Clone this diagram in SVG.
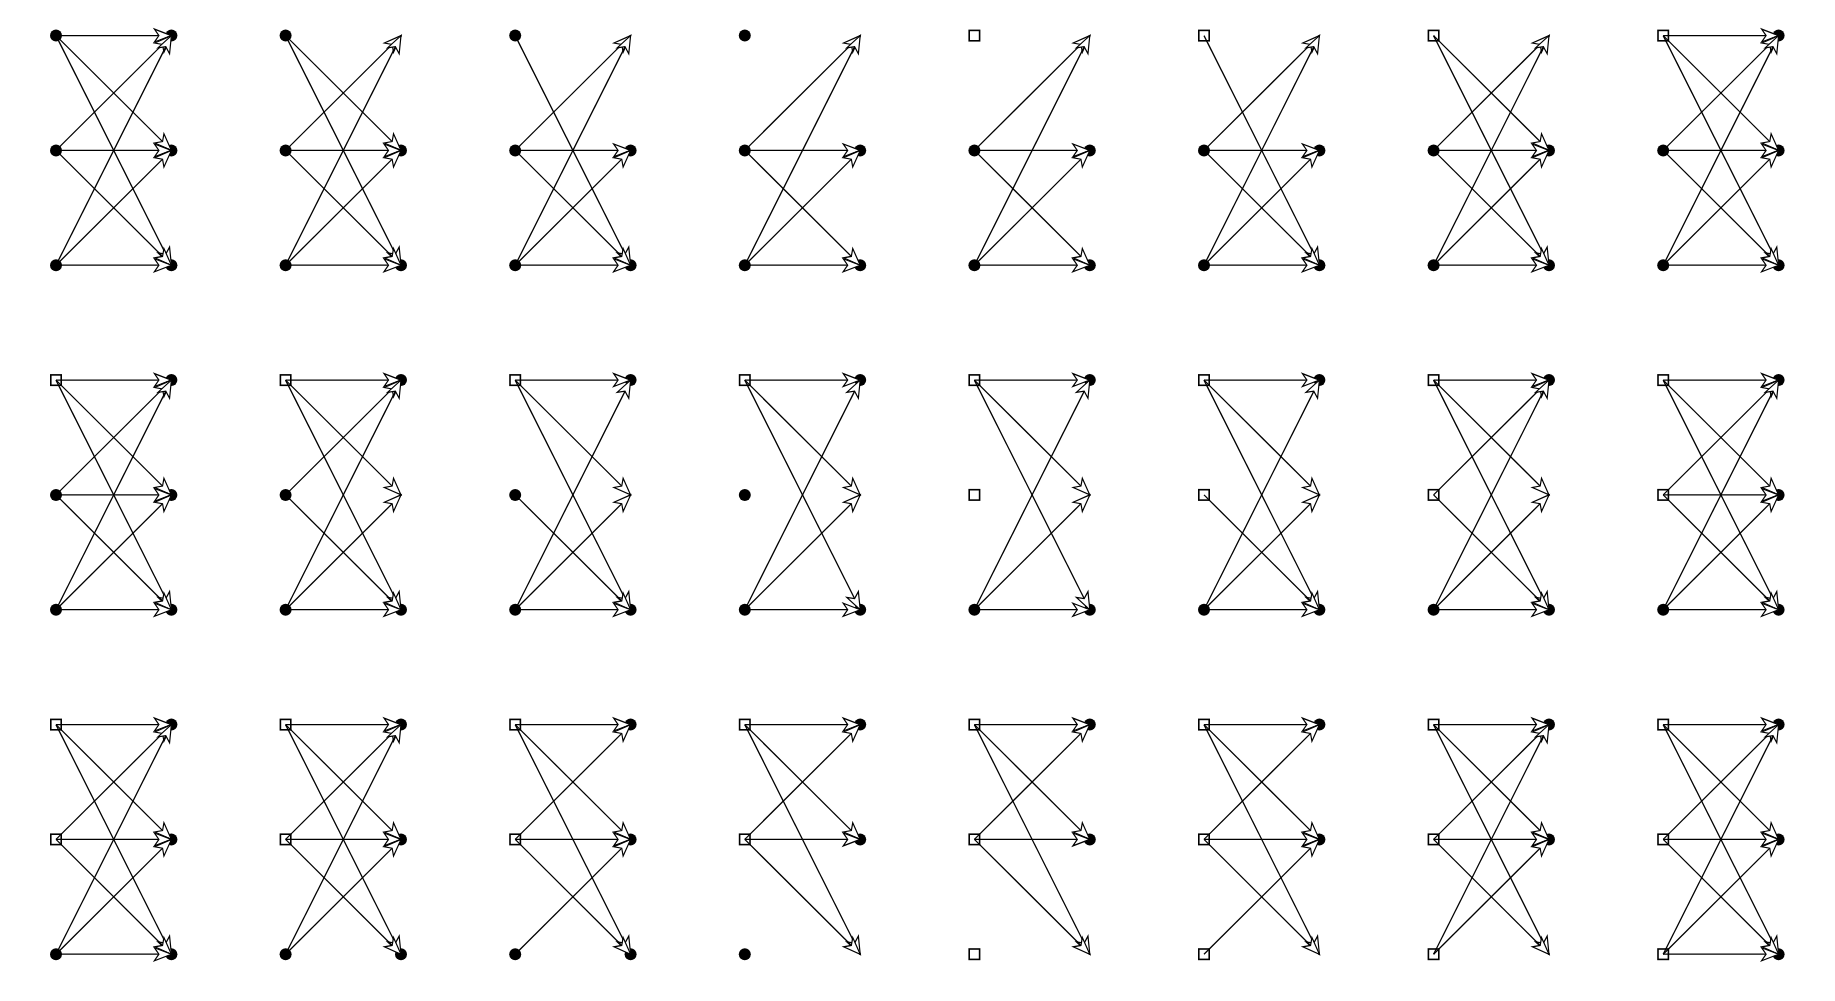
<svg xmlns="http://www.w3.org/2000/svg" xmlns:xlink="http://www.w3.org/1999/xlink" width="1835" height="1001" viewBox="0 0 1835 1001">
<style>
.e{stroke:#000;stroke-width:1.3;fill:none;marker-end:url(#ah)}
.d{fill:#000}
.s{fill:#fff;stroke:#000;stroke-width:1.6}
</style>
<defs>
<marker id="ah" markerUnits="userSpaceOnUse" markerWidth="40" markerHeight="40" refX="0" refY="0" orient="auto" overflow="visible">
<path d="M0,0 L-17,-6.5 L-12.5,0 L-17,6.5 Z" fill="#fff" stroke="#000" stroke-width="1.2" stroke-linejoin="miter"/>
</marker>
<circle id="dot" class="d" cx="0" cy="0" r="6"/>
<rect id="sq" class="s" x="-5.2" y="-5.2" width="10.4" height="10.4"/>
</defs>
<rect width="1835" height="1001" fill="#fff"/>
<g id="nodes">
<g id="p1" transform="translate(56,35.6)"><g id="p1-L0"><use href="#dot"/></g><g id="p1-L1"><use href="#dot" y="114.8"/></g><g id="p1-L2"><use href="#dot" y="229.6"/></g><g id="p1-R0"><use href="#dot" x="115.4"/></g><g id="p1-R1"><use href="#dot" x="115.4" y="114.8"/></g><g id="p1-R2"><use href="#dot" x="115.4" y="229.6"/></g></g>
<g id="p2" transform="translate(285.6,35.6)"><g id="p2-L0"><use href="#dot"/></g><g id="p2-L1"><use href="#dot" y="114.8"/></g><g id="p2-L2"><use href="#dot" y="229.6"/></g><g id="p2-R1"><use href="#dot" x="115.4" y="114.8"/></g><g id="p2-R2"><use href="#dot" x="115.4" y="229.6"/></g></g>
<g id="p3" transform="translate(515.2,35.6)"><g id="p3-L0"><use href="#dot"/></g><g id="p3-L1"><use href="#dot" y="114.8"/></g><g id="p3-L2"><use href="#dot" y="229.6"/></g><g id="p3-R1"><use href="#dot" x="115.4" y="114.8"/></g><g id="p3-R2"><use href="#dot" x="115.4" y="229.6"/></g></g>
<g id="p4" transform="translate(744.8,35.6)"><g id="p4-L0"><use href="#dot"/></g><g id="p4-L1"><use href="#dot" y="114.8"/></g><g id="p4-L2"><use href="#dot" y="229.6"/></g><g id="p4-R1"><use href="#dot" x="115.4" y="114.8"/></g><g id="p4-R2"><use href="#dot" x="115.4" y="229.6"/></g></g>
<g id="p5" transform="translate(974.4,35.6)"><g id="p5-L0"><use href="#sq"/></g><g id="p5-L1"><use href="#dot" y="114.8"/></g><g id="p5-L2"><use href="#dot" y="229.6"/></g><g id="p5-R1"><use href="#dot" x="115.4" y="114.8"/></g><g id="p5-R2"><use href="#dot" x="115.4" y="229.6"/></g></g>
<g id="p6" transform="translate(1204,35.6)"><g id="p6-L0"><use href="#sq"/></g><g id="p6-L1"><use href="#dot" y="114.8"/></g><g id="p6-L2"><use href="#dot" y="229.6"/></g><g id="p6-R1"><use href="#dot" x="115.4" y="114.8"/></g><g id="p6-R2"><use href="#dot" x="115.4" y="229.6"/></g></g>
<g id="p7" transform="translate(1433.6,35.6)"><g id="p7-L0"><use href="#sq"/></g><g id="p7-L1"><use href="#dot" y="114.8"/></g><g id="p7-L2"><use href="#dot" y="229.6"/></g><g id="p7-R1"><use href="#dot" x="115.4" y="114.8"/></g><g id="p7-R2"><use href="#dot" x="115.4" y="229.6"/></g></g>
<g id="p8" transform="translate(1663.2,35.6)"><g id="p8-L0"><use href="#sq"/></g><g id="p8-L1"><use href="#dot" y="114.8"/></g><g id="p8-L2"><use href="#dot" y="229.6"/></g><g id="p8-R0"><use href="#dot" x="115.4"/></g><g id="p8-R1"><use href="#dot" x="115.4" y="114.8"/></g><g id="p8-R2"><use href="#dot" x="115.4" y="229.6"/></g></g>

<g id="p9" transform="translate(56,380.1)"><g id="p9-L0"><use href="#sq"/></g><g id="p9-L1"><use href="#dot" y="114.8"/></g><g id="p9-L2"><use href="#dot" y="229.6"/></g><g id="p9-R0"><use href="#dot" x="115.4"/></g><g id="p9-R1"><use href="#dot" x="115.4" y="114.8"/></g><g id="p9-R2"><use href="#dot" x="115.4" y="229.6"/></g></g>
<g id="p10" transform="translate(285.6,380.1)"><g id="p10-L0"><use href="#sq"/></g><g id="p10-L1"><use href="#dot" y="114.8"/></g><g id="p10-L2"><use href="#dot" y="229.6"/></g><g id="p10-R0"><use href="#dot" x="115.4"/></g><g id="p10-R2"><use href="#dot" x="115.4" y="229.6"/></g></g>
<g id="p11" transform="translate(515.2,380.1)"><g id="p11-L0"><use href="#sq"/></g><g id="p11-L1"><use href="#dot" y="114.8"/></g><g id="p11-L2"><use href="#dot" y="229.6"/></g><g id="p11-R0"><use href="#dot" x="115.4"/></g><g id="p11-R2"><use href="#dot" x="115.4" y="229.6"/></g></g>
<g id="p12" transform="translate(744.8,380.1)"><g id="p12-L0"><use href="#sq"/></g><g id="p12-L1"><use href="#dot" y="114.8"/></g><g id="p12-L2"><use href="#dot" y="229.6"/></g><g id="p12-R0"><use href="#dot" x="115.4"/></g><g id="p12-R2"><use href="#dot" x="115.4" y="229.6"/></g></g>
<g id="p13" transform="translate(974.4,380.1)"><g id="p13-L0"><use href="#sq"/></g><g id="p13-L1"><use href="#sq" y="114.8"/></g><g id="p13-L2"><use href="#dot" y="229.6"/></g><g id="p13-R0"><use href="#dot" x="115.4"/></g><g id="p13-R2"><use href="#dot" x="115.4" y="229.6"/></g></g>
<g id="p14" transform="translate(1204,380.1)"><g id="p14-L0"><use href="#sq"/></g><g id="p14-L1"><use href="#sq" y="114.8"/></g><g id="p14-L2"><use href="#dot" y="229.6"/></g><g id="p14-R0"><use href="#dot" x="115.4"/></g><g id="p14-R2"><use href="#dot" x="115.4" y="229.6"/></g></g>
<g id="p15" transform="translate(1433.6,380.1)"><g id="p15-L0"><use href="#sq"/></g><g id="p15-L1"><use href="#sq" y="114.8"/></g><g id="p15-L2"><use href="#dot" y="229.6"/></g><g id="p15-R0"><use href="#dot" x="115.4"/></g><g id="p15-R2"><use href="#dot" x="115.4" y="229.6"/></g></g>
<g id="p16" transform="translate(1663.2,380.1)"><g id="p16-L0"><use href="#sq"/></g><g id="p16-L1"><use href="#sq" y="114.8"/></g><g id="p16-L2"><use href="#dot" y="229.6"/></g><g id="p16-R0"><use href="#dot" x="115.4"/></g><g id="p16-R1"><use href="#dot" x="115.4" y="114.8"/></g><g id="p16-R2"><use href="#dot" x="115.4" y="229.6"/></g></g>

<g id="p17" transform="translate(56,724.6)"><g id="p17-L0"><use href="#sq"/></g><g id="p17-L1"><use href="#sq" y="114.8"/></g><g id="p17-L2"><use href="#dot" y="229.6"/></g><g id="p17-R0"><use href="#dot" x="115.4"/></g><g id="p17-R1"><use href="#dot" x="115.4" y="114.8"/></g><g id="p17-R2"><use href="#dot" x="115.4" y="229.6"/></g></g>
<g id="p18" transform="translate(285.6,724.6)"><g id="p18-L0"><use href="#sq"/></g><g id="p18-L1"><use href="#sq" y="114.8"/></g><g id="p18-L2"><use href="#dot" y="229.6"/></g><g id="p18-R0"><use href="#dot" x="115.4"/></g><g id="p18-R1"><use href="#dot" x="115.4" y="114.8"/></g><g id="p18-R2"><use href="#dot" x="115.4" y="229.6"/></g></g>
<g id="p19" transform="translate(515.2,724.6)"><g id="p19-L0"><use href="#sq"/></g><g id="p19-L1"><use href="#sq" y="114.8"/></g><g id="p19-L2"><use href="#dot" y="229.6"/></g><g id="p19-R0"><use href="#dot" x="115.4"/></g><g id="p19-R1"><use href="#dot" x="115.4" y="114.8"/></g><g id="p19-R2"><use href="#dot" x="115.4" y="229.6"/></g></g>
<g id="p20" transform="translate(744.8,724.6)"><g id="p20-L0"><use href="#sq"/></g><g id="p20-L1"><use href="#sq" y="114.8"/></g><g id="p20-L2"><use href="#dot" y="229.6"/></g><g id="p20-R0"><use href="#dot" x="115.4"/></g><g id="p20-R1"><use href="#dot" x="115.4" y="114.8"/></g></g>
<g id="p21" transform="translate(974.4,724.6)"><g id="p21-L0"><use href="#sq"/></g><g id="p21-L1"><use href="#sq" y="114.8"/></g><g id="p21-L2"><use href="#sq" y="229.6"/></g><g id="p21-R0"><use href="#dot" x="115.4"/></g><g id="p21-R1"><use href="#dot" x="115.4" y="114.8"/></g></g>
<g id="p22" transform="translate(1204,724.6)"><g id="p22-L0"><use href="#sq"/></g><g id="p22-L1"><use href="#sq" y="114.8"/></g><g id="p22-L2"><use href="#sq" y="229.6"/></g><g id="p22-R0"><use href="#dot" x="115.4"/></g><g id="p22-R1"><use href="#dot" x="115.4" y="114.8"/></g></g>
<g id="p23" transform="translate(1433.6,724.6)"><g id="p23-L0"><use href="#sq"/></g><g id="p23-L1"><use href="#sq" y="114.8"/></g><g id="p23-L2"><use href="#sq" y="229.6"/></g><g id="p23-R0"><use href="#dot" x="115.4"/></g><g id="p23-R1"><use href="#dot" x="115.4" y="114.8"/></g></g>
<g id="p24" transform="translate(1663.2,724.6)"><g id="p24-L0"><use href="#sq"/></g><g id="p24-L1"><use href="#sq" y="114.8"/></g><g id="p24-L2"><use href="#sq" y="229.6"/></g><g id="p24-R0"><use href="#dot" x="115.4"/></g><g id="p24-R1"><use href="#dot" x="115.4" y="114.8"/></g><g id="p24-R2"><use href="#dot" x="115.4" y="229.6"/></g></g>
</g>

<g id="connectors">
<g id="c1" transform="translate(56,35.6)"><path class="e" d="M0 0L115.4 0"/><path class="e" d="M0 0L115.4 114.8"/><path class="e" d="M0 0L115.4 229.6"/><path class="e" d="M0 114.8L115.4 0"/><path class="e" d="M0 114.8L115.4 114.8"/><path class="e" d="M0 114.8L115.4 229.6"/><path class="e" d="M0 229.6L115.4 0"/><path class="e" d="M0 229.6L115.4 114.8"/><path class="e" d="M0 229.6L115.4 229.6"/></g>
<g id="c2" transform="translate(285.6,35.6)"><path class="e" d="M0 0L115.4 114.8"/><path class="e" d="M0 0L115.4 229.6"/><path class="e" d="M0 114.8L115.4 0"/><path class="e" d="M0 114.8L115.4 114.8"/><path class="e" d="M0 114.8L115.4 229.6"/><path class="e" d="M0 229.6L115.4 0"/><path class="e" d="M0 229.6L115.4 114.8"/><path class="e" d="M0 229.6L115.4 229.6"/></g>
<g id="c3" transform="translate(515.2,35.6)"><path class="e" d="M0 0L115.4 229.6"/><path class="e" d="M0 114.8L115.4 0"/><path class="e" d="M0 114.8L115.4 114.8"/><path class="e" d="M0 114.8L115.4 229.6"/><path class="e" d="M0 229.6L115.4 0"/><path class="e" d="M0 229.6L115.4 114.8"/><path class="e" d="M0 229.6L115.4 229.6"/></g>
<g id="c4" transform="translate(744.8,35.6)"><path class="e" d="M0 114.8L115.4 0"/><path class="e" d="M0 114.8L115.4 114.8"/><path class="e" d="M0 114.8L115.4 229.6"/><path class="e" d="M0 229.6L115.4 0"/><path class="e" d="M0 229.6L115.4 114.8"/><path class="e" d="M0 229.6L115.4 229.6"/></g>
<g id="c5" transform="translate(974.4,35.6)"><path class="e" d="M0 114.8L115.4 0"/><path class="e" d="M0 114.8L115.4 114.8"/><path class="e" d="M0 114.8L115.4 229.6"/><path class="e" d="M0 229.6L115.4 0"/><path class="e" d="M0 229.6L115.4 114.8"/><path class="e" d="M0 229.6L115.4 229.6"/></g>
<g id="c6" transform="translate(1204,35.6)"><path class="e" d="M0 0L115.4 229.6"/><path class="e" d="M0 114.8L115.4 0"/><path class="e" d="M0 114.8L115.4 114.8"/><path class="e" d="M0 114.8L115.4 229.6"/><path class="e" d="M0 229.6L115.4 0"/><path class="e" d="M0 229.6L115.4 114.8"/><path class="e" d="M0 229.6L115.4 229.6"/></g>
<g id="c7" transform="translate(1433.6,35.6)"><path class="e" d="M0 0L115.4 114.8"/><path class="e" d="M0 0L115.4 229.6"/><path class="e" d="M0 114.8L115.4 0"/><path class="e" d="M0 114.8L115.4 114.8"/><path class="e" d="M0 114.8L115.4 229.6"/><path class="e" d="M0 229.6L115.4 0"/><path class="e" d="M0 229.6L115.4 114.8"/><path class="e" d="M0 229.6L115.4 229.6"/></g>
<g id="c8" transform="translate(1663.2,35.6)"><path class="e" d="M0 0L115.4 0"/><path class="e" d="M0 0L115.4 114.8"/><path class="e" d="M0 0L115.4 229.6"/><path class="e" d="M0 114.8L115.4 0"/><path class="e" d="M0 114.8L115.4 114.8"/><path class="e" d="M0 114.8L115.4 229.6"/><path class="e" d="M0 229.6L115.4 0"/><path class="e" d="M0 229.6L115.4 114.8"/><path class="e" d="M0 229.6L115.4 229.6"/></g>

<g id="c9" transform="translate(56,380.1)"><path class="e" d="M0 0L115.4 0"/><path class="e" d="M0 0L115.4 114.8"/><path class="e" d="M0 0L115.4 229.6"/><path class="e" d="M0 114.8L115.4 0"/><path class="e" d="M0 114.8L115.4 114.8"/><path class="e" d="M0 114.8L115.4 229.6"/><path class="e" d="M0 229.6L115.4 0"/><path class="e" d="M0 229.6L115.4 114.8"/><path class="e" d="M0 229.6L115.4 229.6"/></g>
<g id="c10" transform="translate(285.6,380.1)"><path class="e" d="M0 0L115.4 0"/><path class="e" d="M0 0L115.4 114.8"/><path class="e" d="M0 0L115.4 229.6"/><path class="e" d="M0 114.8L115.4 0"/><path class="e" d="M0 114.8L115.4 229.6"/><path class="e" d="M0 229.6L115.4 0"/><path class="e" d="M0 229.6L115.4 114.8"/><path class="e" d="M0 229.6L115.4 229.6"/></g>
<g id="c11" transform="translate(515.2,380.1)"><path class="e" d="M0 0L115.4 0"/><path class="e" d="M0 0L115.4 114.8"/><path class="e" d="M0 0L115.4 229.6"/><path class="e" d="M0 114.8L115.4 229.6"/><path class="e" d="M0 229.6L115.4 0"/><path class="e" d="M0 229.6L115.4 114.8"/><path class="e" d="M0 229.6L115.4 229.6"/></g>
<g id="c12" transform="translate(744.8,380.1)"><path class="e" d="M0 0L115.4 0"/><path class="e" d="M0 0L115.4 114.8"/><path class="e" d="M0 0L115.4 229.6"/><path class="e" d="M0 229.6L115.4 0"/><path class="e" d="M0 229.6L115.4 114.8"/><path class="e" d="M0 229.6L115.4 229.6"/></g>
<g id="c13" transform="translate(974.4,380.1)"><path class="e" d="M0 0L115.4 0"/><path class="e" d="M0 0L115.4 114.8"/><path class="e" d="M0 0L115.4 229.6"/><path class="e" d="M0 229.6L115.4 0"/><path class="e" d="M0 229.6L115.4 114.8"/><path class="e" d="M0 229.6L115.4 229.6"/></g>
<g id="c14" transform="translate(1204,380.1)"><path class="e" d="M0 0L115.4 0"/><path class="e" d="M0 0L115.4 114.8"/><path class="e" d="M0 0L115.4 229.6"/><path class="e" d="M0 114.8L115.4 229.6"/><path class="e" d="M0 229.6L115.4 0"/><path class="e" d="M0 229.6L115.4 114.8"/><path class="e" d="M0 229.6L115.4 229.6"/></g>
<g id="c15" transform="translate(1433.6,380.1)"><path class="e" d="M0 0L115.4 0"/><path class="e" d="M0 0L115.4 114.8"/><path class="e" d="M0 0L115.4 229.6"/><path class="e" d="M0 114.8L115.4 0"/><path class="e" d="M0 114.8L115.4 229.6"/><path class="e" d="M0 229.6L115.4 0"/><path class="e" d="M0 229.6L115.4 114.8"/><path class="e" d="M0 229.6L115.4 229.6"/></g>
<g id="c16" transform="translate(1663.2,380.1)"><path class="e" d="M0 0L115.4 0"/><path class="e" d="M0 0L115.4 114.8"/><path class="e" d="M0 0L115.4 229.6"/><path class="e" d="M0 114.8L115.4 0"/><path class="e" d="M0 114.8L115.4 114.8"/><path class="e" d="M0 114.8L115.4 229.6"/><path class="e" d="M0 229.6L115.4 0"/><path class="e" d="M0 229.6L115.4 114.8"/><path class="e" d="M0 229.6L115.4 229.6"/></g>

<g id="c17" transform="translate(56,724.6)"><path class="e" d="M0 0L115.4 0"/><path class="e" d="M0 0L115.4 114.8"/><path class="e" d="M0 0L115.4 229.6"/><path class="e" d="M0 114.8L115.4 0"/><path class="e" d="M0 114.8L115.4 114.8"/><path class="e" d="M0 114.8L115.4 229.6"/><path class="e" d="M0 229.6L115.4 0"/><path class="e" d="M0 229.6L115.4 114.8"/><path class="e" d="M0 229.6L115.4 229.6"/></g>
<g id="c18" transform="translate(285.6,724.6)"><path class="e" d="M0 0L115.4 0"/><path class="e" d="M0 0L115.4 114.8"/><path class="e" d="M0 0L115.4 229.6"/><path class="e" d="M0 114.8L115.4 0"/><path class="e" d="M0 114.8L115.4 114.8"/><path class="e" d="M0 114.8L115.4 229.6"/><path class="e" d="M0 229.6L115.4 0"/><path class="e" d="M0 229.6L115.4 114.8"/></g>
<g id="c19" transform="translate(515.2,724.6)"><path class="e" d="M0 0L115.4 0"/><path class="e" d="M0 0L115.4 114.8"/><path class="e" d="M0 0L115.4 229.6"/><path class="e" d="M0 114.8L115.4 0"/><path class="e" d="M0 114.8L115.4 114.8"/><path class="e" d="M0 114.8L115.4 229.6"/><path class="e" d="M0 229.6L115.4 114.8"/></g>
<g id="c20" transform="translate(744.8,724.6)"><path class="e" d="M0 0L115.4 0"/><path class="e" d="M0 0L115.4 114.8"/><path class="e" d="M0 0L115.4 229.6"/><path class="e" d="M0 114.8L115.4 0"/><path class="e" d="M0 114.8L115.4 114.8"/><path class="e" d="M0 114.8L115.4 229.6"/></g>
<g id="c21" transform="translate(974.4,724.6)"><path class="e" d="M0 0L115.4 0"/><path class="e" d="M0 0L115.4 114.8"/><path class="e" d="M0 0L115.4 229.6"/><path class="e" d="M0 114.8L115.4 0"/><path class="e" d="M0 114.8L115.4 114.8"/><path class="e" d="M0 114.8L115.4 229.6"/></g>
<g id="c22" transform="translate(1204,724.6)"><path class="e" d="M0 0L115.4 0"/><path class="e" d="M0 0L115.4 114.8"/><path class="e" d="M0 0L115.4 229.6"/><path class="e" d="M0 114.8L115.4 0"/><path class="e" d="M0 114.8L115.4 114.8"/><path class="e" d="M0 114.8L115.4 229.6"/><path class="e" d="M0 229.6L115.4 114.8"/></g>
<g id="c23" transform="translate(1433.6,724.6)"><path class="e" d="M0 0L115.4 0"/><path class="e" d="M0 0L115.4 114.8"/><path class="e" d="M0 0L115.4 229.6"/><path class="e" d="M0 114.8L115.4 0"/><path class="e" d="M0 114.8L115.4 114.8"/><path class="e" d="M0 114.8L115.4 229.6"/><path class="e" d="M0 229.6L115.4 0"/><path class="e" d="M0 229.6L115.4 114.8"/></g>
<g id="c24" transform="translate(1663.2,724.6)"><path class="e" d="M0 0L115.4 0"/><path class="e" d="M0 0L115.4 114.8"/><path class="e" d="M0 0L115.4 229.6"/><path class="e" d="M0 114.8L115.4 0"/><path class="e" d="M0 114.8L115.4 114.8"/><path class="e" d="M0 114.8L115.4 229.6"/><path class="e" d="M0 229.6L115.4 0"/><path class="e" d="M0 229.6L115.4 114.8"/><path class="e" d="M0 229.6L115.4 229.6"/></g>
</g>
</svg>
